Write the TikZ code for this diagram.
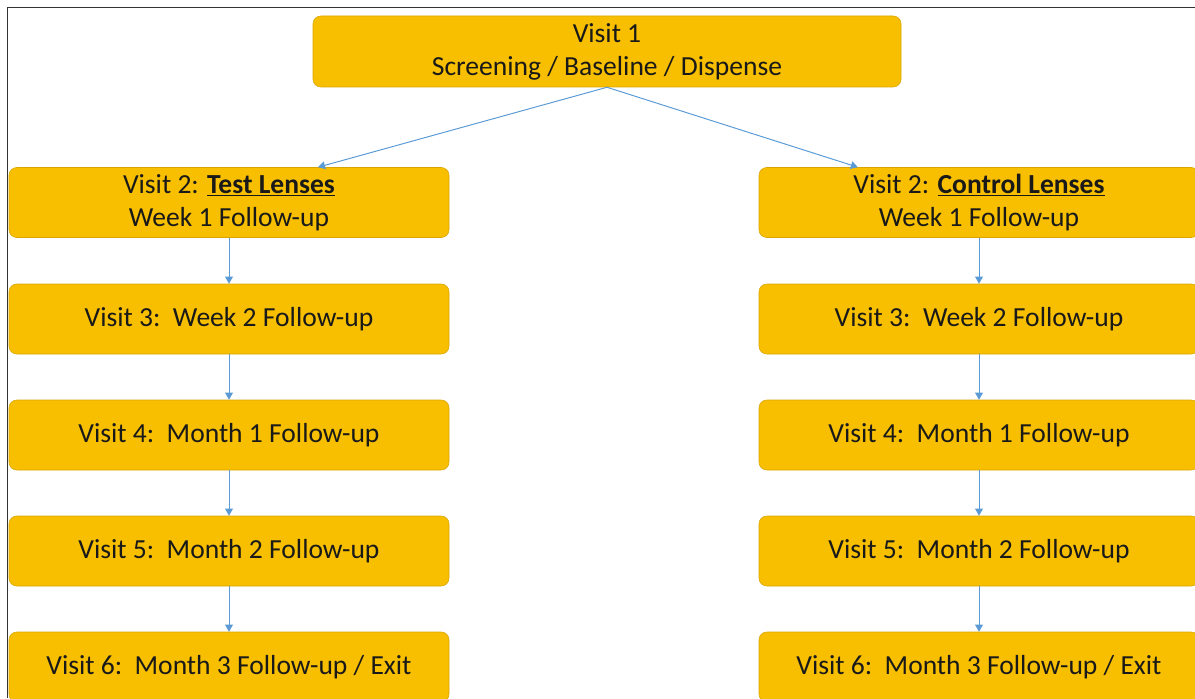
\documentclass[tikz,border=0pt]{standalone}
\usepackage{fontspec}
\setmainfont{Carlito}
\usetikzlibrary{arrows.meta,positioning,calc}
\definecolor{visitgold}{HTML}{F7BF00}
\definecolor{visitedge}{HTML}{D9A400}
\definecolor{flowblue}{HTML}{5B9BD5}
\definecolor{framegray}{HTML}{333333}

\begin{document}
\begin{tikzpicture}[
  visit/.style={draw=visitedge,fill=visitgold,rounded corners=5.5pt,minimum width=11cm,minimum height=1.75cm,align=center,inner sep=0pt,font=\fontsize{19.6}{23.4}\selectfont,text=black!90},
  arr/.style={-{Triangle[length=5pt,width=5.5pt]},line width=0.7pt,flowblue}
]
\useasboundingbox (0,0) rectangle (29.875,17.45);
\draw[framegray,line width=1.2pt] (0.1875,0) -- (0.1875,17.2625) -- (29.875,17.2625);

\node[visit,minimum width=14.7cm,minimum height=1.775cm] (visit1) at (15.175,16.1625) {Visit 1\\Screening / Baseline / Dispense};

% test lenses arm
\node[visit] (test2) at (5.725,12.3875) {Visit 2: \underline{\textbf{Test Lenses}}\\Week 1 Follow-up};
\node[visit] (test3) at (5.725,9.475) {Visit 3:~~Week 2 Follow-up};
\node[visit] (test4) at (5.725,6.575) {Visit 4:~~Month 1 Follow-up};
\node[visit] (test5) at (5.725,3.675) {Visit 5:~~Month 2 Follow-up};
\node[visit] (test6) at (5.725,0.775) {Visit 6:~~Month 3 Follow-up / Exit};

% control lenses arm
\node[visit] (ctrl2) at (24.475,12.3875) {Visit 2: \underline{\textbf{Control Lenses}}\\Week 1 Follow-up};
\node[visit] (ctrl3) at (24.475,9.475) {Visit 3:~~Week 2 Follow-up};
\node[visit] (ctrl4) at (24.475,6.575) {Visit 4:~~Month 1 Follow-up};
\node[visit] (ctrl5) at (24.475,3.675) {Visit 5:~~Month 2 Follow-up};
\node[visit] (ctrl6) at (24.475,0.775) {Visit 6:~~Month 3 Follow-up / Exit};

\draw[arr] (visit1.south) -- ($(test2.north west)!0.702!(test2.north east)$);
\draw[arr] (visit1.south) -- ($(ctrl2.north west)!0.225!(ctrl2.north east)$);

\draw[arr] (test2.south) -- (test3.north);
\draw[arr] (test3.south) -- (test4.north);
\draw[arr] (test4.south) -- (test5.north);
\draw[arr] (test5.south) -- (test6.north);

\draw[arr] (ctrl2.south) -- (ctrl3.north);
\draw[arr] (ctrl3.south) -- (ctrl4.north);
\draw[arr] (ctrl4.south) -- (ctrl5.north);
\draw[arr] (ctrl5.south) -- (ctrl6.north);
\end{tikzpicture}
\end{document}
